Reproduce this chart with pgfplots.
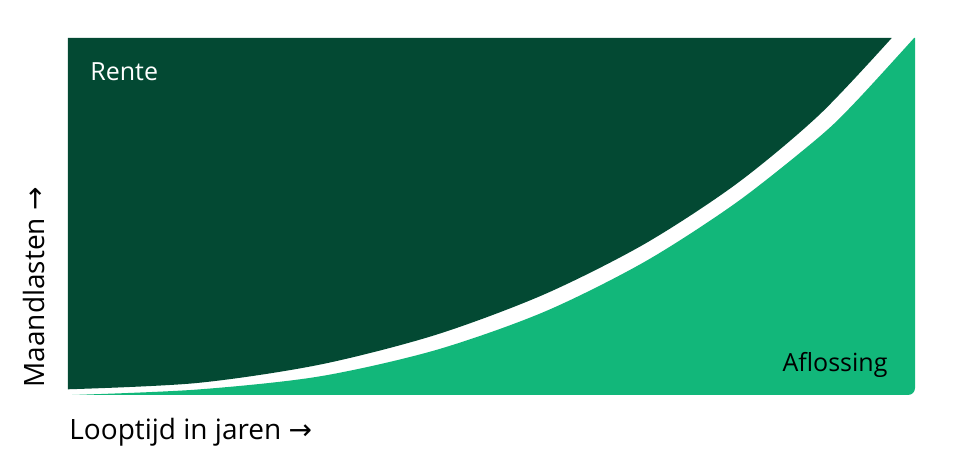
\documentclass[border=0pt]{standalone}
\usepackage{fontspec}
\setmainfont{Open Sans}
\newfontfamily\symfont{DejaVu Sans}
\usepackage{pgfplots}
\pgfplotsset{compat=1.18}
\usepgfplotslibrary{fillbetween}

\definecolor{rente}{RGB}{3,73,51}
\definecolor{aflossing}{RGB}{18,183,122}
\newcommand{\pijl}{{\symfont →}}

\begin{document}
\begin{tikzpicture}[font=\fontsize{12.5}{15}\selectfont]
\begin{axis}[
    scale only axis,
    width=423.5pt, height=178.5pt,
    xmin=0, xmax=30, ymin=0, ymax=100,
    hide axis,
    clip mode=global,
]
    \coordinate (sw) at (rel axis cs:0,0);
    \coordinate (ne) at (rel axis cs:1,1);
    % alleen linksboven en rechtsonder afgerond
    \clip[rounded corners=3pt] (rel axis cs:0,-0.1) rectangle (rel axis cs:1.1,1);
    \clip[rounded corners=3.5pt] (rel axis cs:-0.1,0) rectangle (rel axis cs:1,1.1);

    % bovenrand van het rente-vlak
    \addplot[name path=top, draw=none] coordinates {(0,100) (29.175,100)};
    % ondergrens rente
    \addplot[name path=rentelijn, draw=none, smooth] coordinates {
        (0,1.597) (4.551,3.347) (8.890,8.459) (12.999,16.779)
        (16.845,28.109) (20.412,42.269) (23.671,59.104) (26.600,78.403)
        (29.175,100)
    };
    \addplot[rente] fill between[of=top and rentelijn];

    % aflossing
    \addplot[draw=none, fill=aflossing, smooth] coordinates {
        (0.142,0) (4.551,1.513) (8.890,5.182) (12.999,12.521)
        (16.845,23.221) (20.412,37.255) (23.671,53.894) (26.600,72.241)
        (27.932,82.409) (30,100.28)
    } \closedcycle;

    \node[anchor=base west, inner sep=0, text=white] at (axis cs:0.78,88.2) {Rente};
    \node[anchor=base east, inner sep=0] at (axis cs:29.04,6.5) {Aflossing};
\end{axis}
\begin{scope}[font=\fontsize{14}{17}\selectfont]
\node[anchor=base west, inner sep=0] at ([shift={(0.5pt,-22.5pt)}]sw) {Looptijd in jaren \pijl};
\node[anchor=base west, inner sep=0, rotate=90] at ([shift={(-11.5pt,3.5pt)}]sw) {Maandlasten \pijl};
\end{scope}
\pgfresetboundingbox
\path ([shift={(-34pt,-35pt)}]sw) rectangle ([shift={(22.5pt,19pt)}]ne);
\end{tikzpicture}
\end{document}
